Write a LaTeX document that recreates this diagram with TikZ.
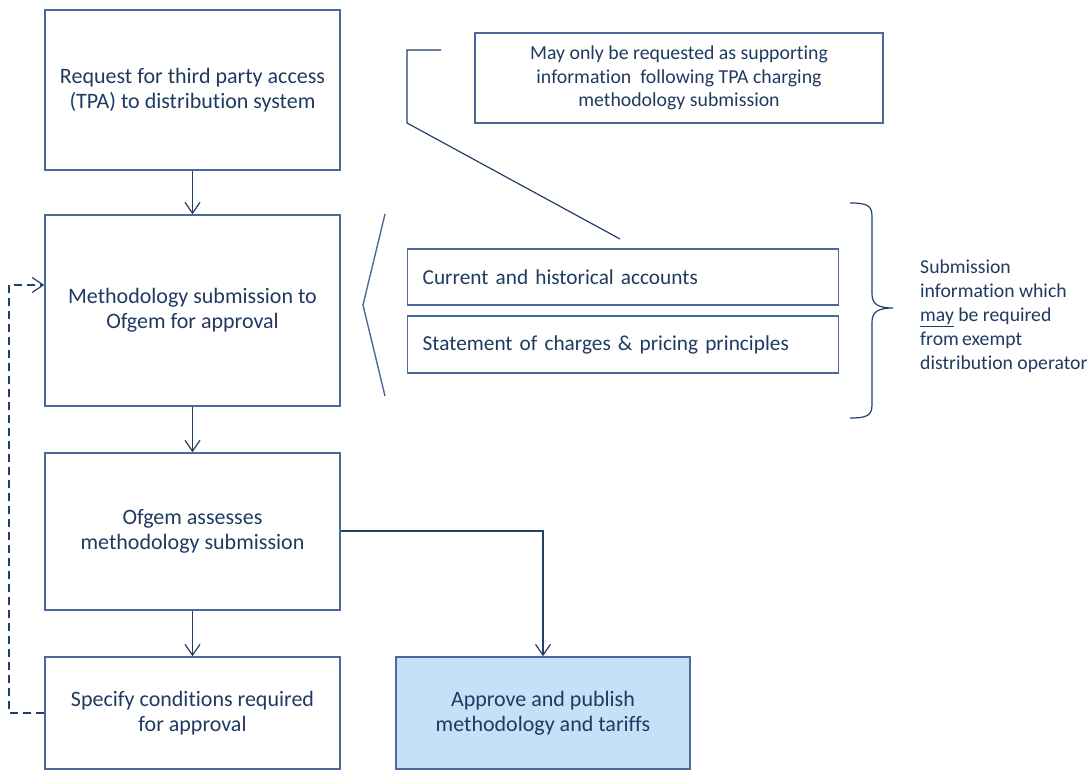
\documentclass[tikz,border=0pt]{standalone}
\usepackage{fontspec}
\setmainfont{Carlito}[Ligatures=NoCommon]
\usetikzlibrary{arrows.meta}
\definecolor{txt}{HTML}{1F3A60}
\definecolor{bord}{HTML}{4A6A9C}
\definecolor{conn}{HTML}{243F66}
\definecolor{fillblue}{HTML}{C6E0F8}
\tikzset{
  box/.style={draw=bord, line width=1.4pt, text=txt, align=center, inner sep=0pt, font=\fontsize{22}{25}\selectfont},
  infobox/.style={draw=bord, line width=1.4pt, text=txt, align=left, anchor=west, inner sep=0pt, font=\fontsize{21.3}{22}\selectfont},
  conn/.style={draw=conn, line width=1.2pt, -{Straight Barb[length=11pt,width=15pt,line width=1.2pt]}},
  plain/.style={draw=conn, line width=1.2pt},
}
\begin{document}
\begin{tikzpicture}[x=1pt,y=-1pt]
\useasboundingbox (0,0) rectangle (1092,769);
% main boxes
\node[box, minimum width=295pt, minimum height=160pt] (b1) at (192.5,90) {Request for third party access\\(TPA) to distribution system};
\node[box, minimum width=295pt, minimum height=191pt] (b2) at (192.5,310.5) {Methodology submission to\\Ofgem for approval};
\node[box, minimum width=295pt, minimum height=157pt] (b3) at (192.5,531.5) {Ofgem assesses\\methodology submission};
\node[box, minimum width=295pt, minimum height=112pt] (b4) at (192.5,713) {Specify conditions required\\for approval};
\node[box, fill=fillblue, minimum width=294pt, minimum height=112pt] (b5) at (543,713) {Approve and publish\\methodology and tariffs};
% info boxes
\node[infobox, minimum width=431pt, minimum height=56pt, text width=431pt] (i1) at (407,277) {\hspace*{15pt}Current and historical accounts};
\node[infobox, minimum width=431pt, minimum height=57pt, text width=431pt] (i2) at (407,344.5) {\hspace*{15pt}Statement of charges \& pricing principles};
\node[box, minimum width=408pt, minimum height=90pt, font=\fontsize{19.8}{23.5}\selectfont] (c1) at (679,78) {May only be requested as supporting\\information\ \ following TPA charging\\methodology submission};
% side note
\node[text=txt, align=left, anchor=west, inner sep=0pt, font=\fontsize{19.7}{24}\selectfont] (note) at (920,316) {Submission\\information which\\\underline{may} be required\\from\,exempt\\distribution operator};
% connectors
\draw[conn] (b1.south) -- (b2.north);
\draw[conn] (b2.south) -- (b3.north);
\draw[conn] (b3.south) -- (b4.north);
\draw[conn] (b3.east |- 0,531) -| (b5.north);
\coordinate (d1) at (9,713);
\coordinate (d2) at (9,285);
\draw[conn, dashed, dash pattern=on 8pt off 5pt] (b4.west) -- (d1) -- (d2) -- (b2.west |- d2);
% callout triangle
\coordinate (t1) at (385,214);
\coordinate (t2) at (363,305);
\coordinate (t3) at (385,396);
\draw[draw=bord, line width=1.4pt] (t1) -- (t2) -- (t3);
% callout bracket line
\coordinate (k1) at (441,50);
\coordinate (k2) at (407,50);
\coordinate (k3) at (407,123);
\coordinate (k4) at (620,239);
\draw[plain] (k1) -- (k2) -- (k3) -- (k4);
% curly brace
\coordinate (br1) at (850,203);
\coordinate (brt) at (893,308);
\coordinate (br2) at (850,418);
\draw[plain] (br1) .. controls (866,203) and (872,205) .. (872,216) -- (872,294)
  .. controls (872,304) and (878,308) .. (brt)
  .. controls (878,308) and (872,312) .. (872,322) -- (872,405)
  .. controls (872,416) and (866,418) .. (br2);
\end{tikzpicture}
\end{document}
